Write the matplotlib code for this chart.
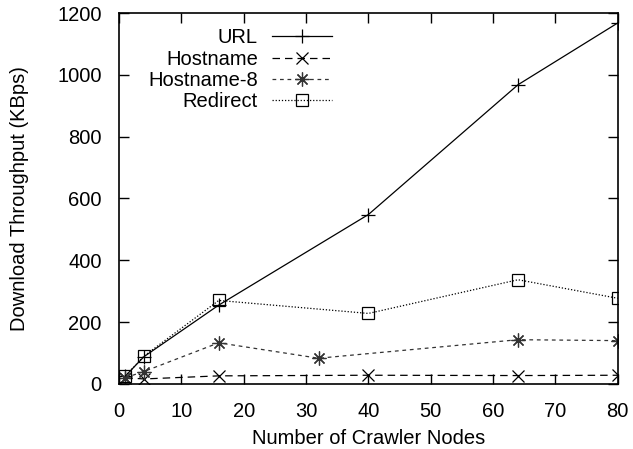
import matplotlib
matplotlib.use('Agg')
import matplotlib.pyplot as plt

plt.rcParams['font.family'] = ['Liberation Sans', 'DejaVu Sans']

# data
url_x = [1, 4, 16, 40, 64, 80]
url_y = [25, 88, 255, 548, 968, 1168]
host_x = [1, 4, 16, 40, 64, 80]
host_y = [20, 16, 26, 28, 27, 28]
host8_x = [1, 4, 16, 32, 64, 80]
host8_y = [20, 40, 133, 83, 143, 140]
redir_x = [1, 4, 16, 40, 64, 80]
redir_y = [25, 90, 270, 228, 337, 277]

fs = 14.5

fig = plt.figure(figsize=(6.33, 4.49), dpi=100)
ax = fig.add_axes([0.188, 0.145, 0.788, 0.826])

ax.plot(url_x, url_y, color='k', lw=0.9, marker='+', ms=10, mew=0.9, label='URL')
ax.plot(host_x, host_y, color='k', lw=0.9, ls=(0, (6, 4)), marker='x', ms=8, mew=0.9,
        label='Hostname')
ax.plot(host8_x, host8_y, color='#333333', lw=0.9, ls=(0, (3, 3)), marker=(8, 2, 0), ms=10,
        mew=0.9, label='Hostname-8')
ax.plot(redir_x, redir_y, color='k', lw=0.9, ls=(0, (1, 1.5)), marker='s', ms=8, mew=0.9,
        mfc='none', label='Redirect')

ax.set_xlim(0, 80)
ax.set_ylim(0, 1200)
ax.set_xticks(range(0, 81, 10))
ax.set_yticks(range(0, 1201, 200))
ax.tick_params(direction='in', top=True, right=True, length=7, width=1, labelsize=fs)
ax.tick_params(axis='x', pad=13)
ax.tick_params(axis='y', pad=12.5)
for s in ax.spines.values():
    s.set_linewidth(1.2)

ax.set_xlabel('Number of Crawler Nodes', fontsize=fs, labelpad=6)
ax.set_ylabel('Download Throughput (KBps)', fontsize=fs, labelpad=20)

leg = ax.legend(loc='upper left', bbox_to_anchor=(0.03, 0.997), markerfirst=False,
                frameon=False, fontsize=fs, handlelength=3.0, labelspacing=0.12,
                borderpad=0.2, handletextpad=0.7)
for t in leg.get_texts():
    t.set_ha('right')
leg._legend_box.align = 'right'

fig.savefig('out.png', dpi=100)
